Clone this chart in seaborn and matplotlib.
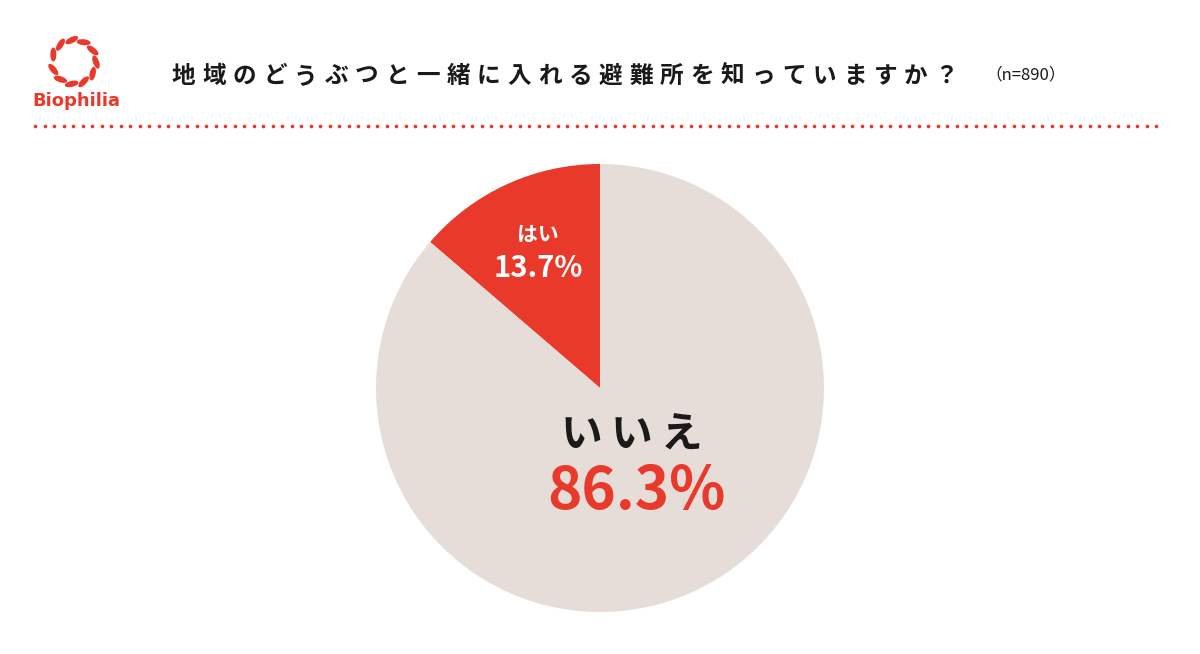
import numpy as np
import matplotlib.pyplot as plt
import seaborn as sns
from matplotlib.patches import Ellipse

sns.set_theme(style="white")
plt.rcParams["font.family"] = ["Noto Sans CJK JP", "DejaVu Sans"]

labels = ["はい", "いいえ"]
shares = [13.7, 86.3]
colors = ["#E8392A", "#E6DDD9"]
title = "地域のどうぶつと一緒に入れる避難所を知っていますか？"
n_text = "（n=890）"

W, H = 1200, 654
fig = plt.figure(figsize=(12, 6.54), dpi=100)
fig.patch.set_facecolor("white")

# pie axes: centre (600, 388), radius 224 px
ax = fig.add_axes([376 / W, (H - 388 - 224) / H, 448 / W, 448 / H])
ax.pie(shares, colors=colors, startangle=90, counterclock=True,
       wedgeprops=dict(linewidth=0))
ax.set_xlim(-1, 1)
ax.set_ylim(-1, 1)
ax.set_aspect("equal")

red = colors[0]
fig.text(538 / W, 1 - 234 / H, labels[0], color="white", fontsize=15,
         fontweight="bold", ha="center", va="center")
fig.text(538 / W, 1 - 268 / H, f"{shares[0]}%", color="white", fontsize=21,
         fontweight="bold", ha="center", va="center")
fig.text(632 / W, 1 - 436 / H, "\u2009".join(labels[1]), color="#1a1a1a", fontsize=30,
         fontweight="bold", ha="center", va="center",
         family=["Noto Sans CJK JP", "DejaVu Sans"])
fig.text(636 / W, 1 - 492 / H, f"{shares[1]}%", color=red, fontsize=42,
         fontweight="bold", ha="center", va="center")

# header: spaced title, one character at a time
step = 793 / len(title)
for i, ch in enumerate(title):
    fig.text((172 + i * step) / W, 1 - 76 / H, ch, fontsize=17, fontweight="bold",
             color="#1a1a1a", ha="left", va="center")
fig.text(985 / W, 1 - 75 / H, n_text, fontsize=12, color="#1a1a1a",
         ha="left", va="center")

# dotted separator
over = fig.add_axes([0, 0, 1, 1], facecolor="none")
over.set_xlim(0, W)
over.set_ylim(H, 0)
over.axis("off")
xs = np.arange(35, 1162, 9.5)
over.scatter(xs, np.full_like(xs, 126), s=7, color=red, linewidths=0)

# logo ring of leaves
cx, cy, r = 74, 62, 22
for ang in np.linspace(200, 520, 11):
    a = np.deg2rad(ang)
    over.add_patch(Ellipse((cx + r * np.cos(a), cy - r * np.sin(a)), 14, 6,
                           angle=-(ang + 110), color=red, lw=0))
fig.text(76 / W, 1 - 101 / H, "Biophilia", fontsize=13, fontweight="bold",
         color=red, ha="center", va="center", family="DejaVu Sans")

fig.savefig("out.png", dpi=100, facecolor="white")
